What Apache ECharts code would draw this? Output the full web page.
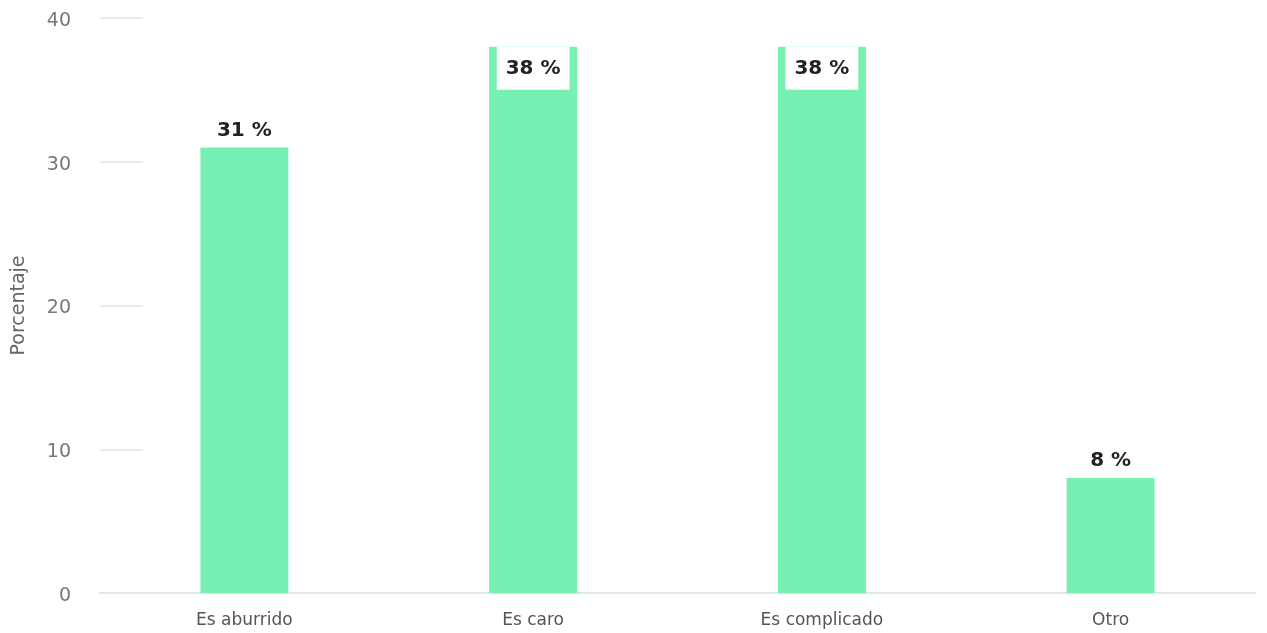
<!DOCTYPE html>
<html>
<head>
<meta charset="utf-8">
<script src="https://cdn.jsdelivr.net/npm/echarts@6/dist/echarts.min.js"></script>
<style>
  html, body { margin: 0; padding: 0; background: #fff; }
  #chart { width: 1267px; height: 633px; }
</style>
</head>
<body>
<div id="chart"></div>
<script>
  // datos del gráfico
  var categorias = ['Es aburrido', 'Es caro', 'Es complicado', 'Otro']
  var porcentajes = [31, 38, 38, 8]
  var ejeY = { min: 0, max: 40, interval: 10 }

  var myChart = echarts.init(document.getElementById('chart'))

  // las barras que llegan arriba llevan la etiqueta dentro, con fondo blanco
  var datos = porcentajes.map(function (v) {
    if (v >= 35) {
      return {
        value: v,
        label: {
          position: 'insideTop',
          distance: 0,
          backgroundColor: '#fff',
          padding: [12, 9, 11, 9]
        }
      }
    }
    return v
  })

  myChart.setOption({
    animation: false,
    textStyle: { fontFamily: 'DejaVu Sans' },
    grid: {
      left: 100,
      right: 12,
      top: 18,
      bottom: 40,
      outerBoundsMode: 'none'
    },
    xAxis: {
      type: 'category',
      data: categorias,
      axisTick: { show: false },
      axisLine: { lineStyle: { color: '#dfe4ee', width: 2 } },
      axisLabel: { color: '#555', fontSize: 17, margin: 19 }
    },
    yAxis: {
      type: 'value',
      min: ejeY.min,
      max: ejeY.max,
      interval: ejeY.interval,
      name: 'Porcentaje',
      nameLocation: 'middle',
      nameGap: 71,
      nameTextStyle: { color: '#666', fontSize: 19 },
      axisLine: { show: false },
      axisTick: {
        show: true,
        inside: true,
        length: 43,
        lineStyle: { color: '#e3e3e3', width: 1.5 }
      },
      splitLine: { show: false },
      axisLabel: {
        color: '#777',
        fontSize: 19,
        margin: 29,
        formatter: function (v) { return '{n|' + v + '}' },
        rich: {
          n: { color: '#777', fontSize: 19, padding: [6, 0, 0, 0] }
        }
      }
    },
    series: [
      {
        name: 'Porcentaje',
        type: 'bar',
        data: datos,
        barWidth: 88,
        itemStyle: { color: '#77f1b3' },
        label: {
          show: true,
          position: 'top',
          distance: 7,
          formatter: '{c} %',
          color: '#222',
          fontSize: 20,
          fontWeight: 'bold'
        }
      }
    ]
  })
</script>
</body>
</html>
